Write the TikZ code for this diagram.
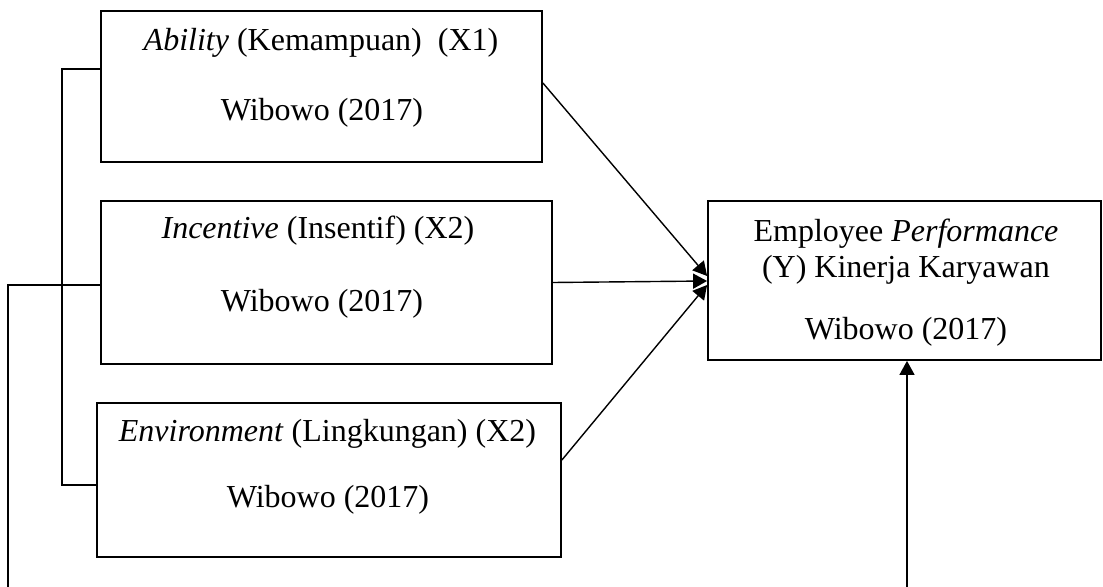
\documentclass[tikz,border=0pt]{standalone}
\usepackage{fontspec}
\setmainfont{Liberation Serif}
\usetikzlibrary{arrows.meta, positioning, calc}

\begin{document}
\begin{tikzpicture}[
    x=0.5pt, y=-0.5pt,
    every node/.style={font=\fontsize{16}{18}\selectfont},
    varbox/.style={rectangle, draw=black, line width=0.9pt, inner sep=0pt},
    txt/.style={anchor=base, inner sep=0pt},
    conn/.style={line width=0.7pt},
    arrow/.style={conn, -{Triangle[length=7pt, width=7.5pt]}}
]
\useasboundingbox (0,0) rectangle (1103,587);

% boxes
\node[varbox, minimum width=220.5pt, minimum height=75.5pt] (abil) at (321.5,86.5) {};
\node[varbox, minimum width=225.5pt, minimum height=81.5pt] (inc) at (326.5,282.5) {};
\node[varbox, minimum width=232pt, minimum height=77pt] (env) at (329,480) {};
\node[varbox, minimum width=196.5pt, minimum height=79.5pt] (perf) at (904.5,280.5) {};

% texts
\node[txt] (abilA) at (321,51) {\textit{Ability} (Kemampuan)~~(X1)};
\node[txt] (abilB) at (322,121) {Wibowo (2017)};
\node[txt] (incA) at (318,239) {\textit{Incentive} (Insentif) (X2)};
\node[txt] (incB) at (322,312) {Wibowo (2017)};
\node[txt] (envA) at (327.5,442) {\textit{Environment} (Lingkungan) (X2)};
\node[txt] (envB) at (328,508) {Wibowo (2017)};
\node[txt] (perfA) at (906,242) {Employee \textit{Performance}};
\node[txt] (perfB) at (906,278) {(Y) Kinerja Karyawan};
\node[txt] (perfC) at (906,340) {Wibowo (2017)};

\coordinate (lbot) at (8,587);
\coordinate (rbot) at (907,587);

% X1, X2, X3 -> Y
\draw[arrow] ($(abil.east)+(0,-3.5)$) -- ($(perf.west)+(0,-4.5)$);
\draw[arrow] (inc.east) -- ($(perf.west)+(0,0.5)$);
\draw[arrow] ($(env.east)+(0,-20)$) -- ($(perf.west)+(0,4.5)$);

% left bracket X1 -- X3
\draw[conn] ($(abil.west)+(0,-17.5)$) -- ++(-38,0) |- ($(env.west)+(0,5)$);

% X2 down to bottom
\draw[conn] ($(inc.west)+(0,2.5)$) -| (lbot);

% bottom up to Y
\draw[arrow] (rbot) -- (rbot |- perf.south);

\end{tikzpicture}
\end{document}
